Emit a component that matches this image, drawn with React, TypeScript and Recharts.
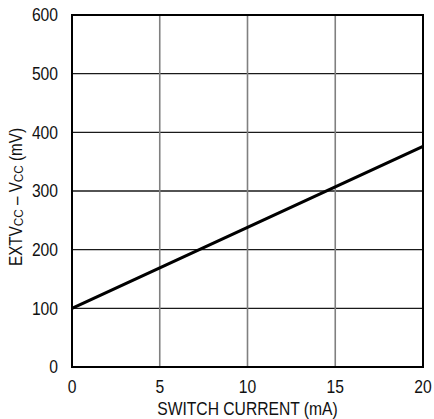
import React from "react";
import { LineChart, Line, XAxis, YAxis, CartesianGrid, ReferenceArea } from "recharts";

const switchCurrent = [0, 5, 10, 15, 20];
const voltageDiff = [100, 169, 238, 307, 376];
const xTicks = [0, 5, 10, 15, 20];
const yTicks = [0, 100, 200, 300, 400, 500, 600];

const data = switchCurrent.map((x, i) => ({ x, y: voltageDiff[i] }));

const FONT = "'Liberation Sans', Arial, sans-serif";
const SQ = 0.87;

const XTick = (props: any) => {
  const { x, y, payload } = props;
  return (
    <text
      transform={`translate(${x}, ${y + 11}) scale(${SQ}, 1)`}
      textAnchor="middle"
      dy="0.71em"
      fontFamily={FONT}
      fontSize={18}
      fill="#111"
    >
      {payload.value}
    </text>
  );
};

const YTick = (props: any) => {
  const { x, y, payload } = props;
  return (
    <text
      transform={`translate(${x - 12}, ${y}) scale(${SQ}, 1)`}
      textAnchor="end"
      dy="0.355em"
      fontFamily={FONT}
      fontSize={18}
      fill="#111"
    >
      {payload.value}
    </text>
  );
};

const XLabel = (props: any) => {
  const vb = props.viewBox || {};
  const cx = (vb.x ?? 72) + (vb.width ?? 351) / 2;
  return (
    <text
      transform={`translate(${cx}, 415) scale(${SQ}, 1)`}
      textAnchor="middle"
      fontFamily={FONT}
      fontSize={18}
      fill="#111"
    >
      SWITCH CURRENT (mA)
    </text>
  );
};

const YLabel = (props: any) => {
  const vb = props.viewBox || {};
  const cx = 16;
  const cy = (vb.y ?? 15) + (vb.height ?? 352) / 2 + 6;
  return (
    <text
      transform={`translate(${cx}, ${cy}) rotate(-90) scale(${SQ}, 1)`}
      textAnchor="middle"
      dominantBaseline="central"
      fontFamily={FONT}
      fontSize={17.5}
      fill="#111"
    >
      <tspan>EXTV</tspan>
      <tspan fontSize={13.5} dy={3}>CC</tspan>
      <tspan dy={-3}> – V</tspan>
      <tspan fontSize={13.5} dy={3}>CC</tspan>
      <tspan dy={-3}> (mV)</tspan>
    </text>
  );
};

export default function App() {
  return (
    <div style={{ position: "absolute", left: 0, top: 0, width: 434, height: 419, background: "#fff" }}>
      <LineChart width={434} height={419} data={data} margin={{ top: 15, right: 11, left: 0, bottom: 0 }}>
        <CartesianGrid vertical={false} stroke="#1a1a1a" strokeWidth={1.3} />
        <CartesianGrid horizontal={false} stroke="#808080" strokeWidth={1.6} />
        <XAxis
          dataKey="x"
          type="number"
          domain={[0, 20]}
          ticks={xTicks}
          height={52}
          axisLine={false}
          tickLine={false}
          tickSize={0}
          tick={<XTick />}
          label={<XLabel />}
        />
        <YAxis
          type="number"
          domain={[0, 600]}
          ticks={yTicks}
          width={72}
          axisLine={false}
          tickLine={false}
          tickSize={0}
          tick={<YTick />}
          label={<YLabel />}
        />
        <ReferenceArea x1={0} x2={20} y1={0} y2={600} fill="none" stroke="#000" strokeWidth={2} ifOverflow="visible" />
        <Line
          type="linear"
          dataKey="y"
          stroke="#000"
          strokeWidth={3.2}
          dot={false}
          isAnimationActive={false}
        />
      </LineChart>
    </div>
  );
}
